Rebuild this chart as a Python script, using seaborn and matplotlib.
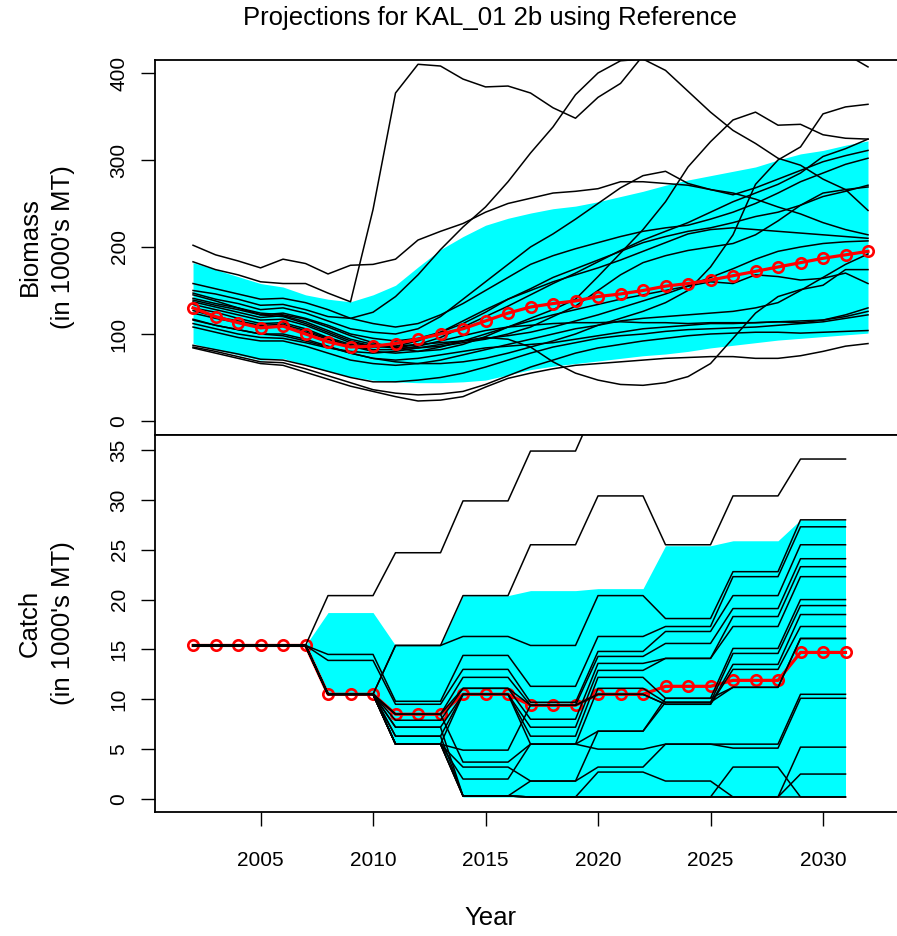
import numpy as np
import pandas as pd
import matplotlib
matplotlib.use("Agg")
import matplotlib.pyplot as plt
import seaborn as sns

plt.rcParams['font.family'] = ['Liberation Sans', 'DejaVu Sans']

years_bio = list(range(2002, 2033))
years_catch = list(range(2002, 2032))

# biomass projections, one list per simulation (1000's MT), 2002-2032
bio_01 = [202, 191, 184, 176, 186, 181, 169, 179, 180, 186, 208, 218, 227, 240, 250, 256,
          262, 264, 267, 275, 275, 273, 271, 266, 260, 268, 278, 288, 298, 305, 311]
bio_02 = [183, 174, 168, 160, 158, 158, 147, 137, 243, 377, 410, 408, 393, 384, 385, 377,
          360, 348, 372, 388, 420, 432, 440, 445, 446, 442, 437, 432, 428, 422, 407]
bio_03 = [150, 146, 140, 133, 134, 128, 120, 118, 125, 143, 168, 197, 223, 246, 275, 308,
          338, 375, 400, 414, 416, 403, 379, 355, 334, 319, 302, 294, 278, 266, 242]
bio_04 = [141, 135, 130, 124, 122, 117, 108, 98, 90, 84, 80, 82, 88, 97, 108, 118,
          128, 140, 166, 193, 220, 252, 292, 321, 346, 355, 340, 341, 329, 325, 324]
bio_05 = [117, 110, 105, 100, 98, 92, 85, 78, 72, 68, 66, 66, 68, 72, 78, 85,
          92, 100, 110, 118, 126, 136, 150, 177, 214, 272, 300, 315, 353, 361, 364]
bio_06 = [147, 140, 135, 128, 130, 124, 115, 106, 102, 100, 106, 120, 140, 160, 180, 200,
          215, 232, 250, 268, 282, 287, 273, 266, 262, 255, 246, 238, 228, 220, 214]
bio_07 = [145, 138, 130, 122, 120, 112, 102, 92, 86, 84, 88, 96, 108, 120, 132, 145,
          158, 170, 183, 196, 208, 218, 228, 240, 252, 262, 272, 285, 304, 313, 324]
bio_08 = [158, 152, 146, 140, 141, 136, 128, 118, 112, 108, 112, 122, 135, 150, 165, 180,
          190, 198, 205, 212, 218, 222, 225, 232, 240, 250, 262, 275, 285, 295, 302]
bio_09 = [139, 133, 128, 122, 124, 118, 110, 100, 95, 92, 95, 102, 112, 125, 140, 152,
          165, 175, 185, 195, 205, 212, 218, 222, 228, 235, 240, 248, 258, 264, 271]
bio_10 = [137, 131, 125, 119, 121, 114, 104, 94, 88, 84, 84, 86, 90, 94, 100, 108,
          120, 132, 150, 168, 182, 190, 196, 200, 204, 214, 230, 248, 262, 266, 269]
bio_11 = [134, 128, 122, 116, 117, 110, 100, 90, 86, 86, 92, 102, 115, 128, 140, 150,
          160, 168, 176, 185, 195, 205, 215, 220, 222, 220, 218, 216, 214, 212, 210]
bio_12 = [130, 125, 118, 112, 113, 106, 96, 88, 85, 86, 88, 90, 92, 95, 98, 102,
          108, 115, 122, 130, 138, 146, 155, 165, 175, 186, 195, 200, 204, 206, 207]
bio_13 = [112, 106, 100, 96, 95, 90, 84, 80, 78, 80, 84, 88, 92, 96, 94, 85,
          68, 55, 47, 42, 41, 44, 51, 66, 95, 124, 143, 151, 156, 174, 174]
bio_14 = [127, 120, 115, 110, 111, 104, 95, 86, 80, 78, 80, 85, 92, 100, 108, 115,
          122, 128, 134, 140, 145, 150, 155, 160, 158, 168, 166, 162, 164, 170, 158]
bio_15 = [124, 118, 113, 108, 109, 102, 94, 86, 82, 82, 86, 92, 98, 104, 108, 110,
          112, 113, 113, 114, 113, 113, 112, 113, 113, 113, 114, 113, 116, 120, 126]
bio_16 = [116, 110, 105, 100, 100, 94, 86, 78, 72, 70, 72, 76, 80, 84, 86, 88,
          90, 94, 98, 102, 106, 108, 110, 112, 112, 113, 114, 115, 116, 122, 130]
bio_17 = [108, 102, 96, 92, 92, 86, 78, 70, 66, 64, 66, 70, 76, 82, 88, 94,
          100, 106, 110, 115, 118, 120, 122, 124, 126, 130, 136, 150, 165, 180, 192]
bio_18 = [84, 78, 72, 66, 64, 56, 48, 40, 34, 28, 23, 24, 28, 39, 49, 55,
          60, 64, 66, 68, 70, 72, 73, 74, 74, 72, 72, 75, 80, 86, 89]
bio_19 = [85, 80, 74, 68, 67, 60, 52, 44, 36, 32, 30, 31, 34, 42, 52, 62,
          70, 78, 84, 88, 92, 95, 98, 100, 101, 102, 102, 101, 102, 103, 104]
bio_20 = [87, 82, 77, 71, 70, 64, 57, 50, 45, 45, 47, 50, 55, 62, 70, 78,
          85, 90, 95, 98, 100, 103, 105, 106, 107, 108, 110, 112, 114, 118, 122]

bio_median = [130, 120, 113, 107, 109, 100, 91, 85, 86, 89, 94, 100, 106, 115, 124, 131,
              135, 138, 143, 146, 150, 155, 158, 162, 167, 172, 177, 182, 187, 191, 195]
bio_upper = [182, 174, 166, 158, 154, 145, 140, 137, 145, 156, 177, 197, 212, 225, 233, 239,
             244, 247, 252, 258, 264, 271, 277, 282, 287, 292, 300, 307, 311, 317, 322]
bio_lower = [89, 82, 76, 70, 72, 64, 57, 51, 47, 45, 44, 44, 45, 47, 53, 59,
             63, 66, 69, 72, 75, 77, 80, 84, 87, 90, 93, 95, 97, 99, 101]

# catch: 15.4 for 2002-2007, then one value per 3-year period
# (2008-10, 11-13, 14-16, 17-19, 20-22, 23-25, 26-28, 29-31)
catch_start = 15.4
catch_01 = [20.4, 24.7, 29.9, 34.9, 40.0, 44.0, 48.0, 52.0]
catch_02 = [10.5, 15.4, 20.4, 25.5, 30.4, 25.5, 30.4, 34.1]
catch_03 = [10.5, 15.4, 16.3, 15.4, 20.4, 18.1, 22.8, 28.0]
catch_04 = [14.5, 9.8, 14.4, 11.3, 16.3, 17.3, 22.3, 27.3]
catch_05 = [13.9, 9.5, 13.0, 9.7, 14.8, 16.8, 20.4, 25.5]
catch_06 = [10.5, 8.5, 12.2, 9.4, 14.3, 15.6, 19.1, 24.1]
catch_07 = [10.5, 7.9, 11.1, 8.0, 13.6, 14.1, 18.3, 23.3]
catch_08 = [10.5, 7.2, 10.5, 7.2, 12.9, 14.1, 17.3, 22.3]
catch_09 = [10.5, 6.3, 10.5, 6.3, 12.2, 10.1, 15.1, 20.0]
catch_10 = [10.5, 5.5, 10.5, 5.5, 11.1, 9.7, 14.6, 19.4]
catch_11 = [10.5, 5.5, 4.9, 9.4, 10.5, 9.5, 13.5, 18.5]
catch_12 = [10.5, 8.5, 11.1, 9.4, 10.5, 9.5, 13.0, 17.3]
catch_13 = [10.5, 8.5, 3.7, 5.5, 6.8, 10.1, 11.2, 16.1]
catch_14 = [10.5, 5.5, 3.2, 1.8, 6.8, 9.7, 11.2, 16.1]
catch_15 = [10.5, 5.5, 2.0, 5.5, 5.0, 5.5, 5.5, 10.5]
catch_16 = [10.5, 5.5, 0.3, 1.8, 3.2, 5.5, 5.1, 10.1]
catch_17 = [10.5, 5.5, 0.3, 0.2, 2.7, 1.8, 0.2, 5.2]
catch_18 = [10.5, 6.3, 0.3, 0.2, 0.2, 0.2, 0.2, 2.5]
catch_19 = [10.5, 7.2, 0.3, 0.2, 0.2, 0.2, 3.2, 0.2]
catch_20 = [10.5, 5.5, 0.3, 0.2, 0.2, 0.2, 0.2, 0.2]

catch_median = [10.5, 8.5, 10.5, 9.4, 10.5, 11.3, 11.9, 14.7]
catch_upper = [18.7, 15.4, 20.4, 20.9, 21.1, 25.4, 25.9, 28.0]
catch_lower = [10.5, 5.5, 0.2, 0.2, 0.2, 0.2, 0.2, 0.2]

bio_runs = [bio_01, bio_02, bio_03, bio_04, bio_05, bio_06, bio_07, bio_08, bio_09, bio_10,
            bio_11, bio_12, bio_13, bio_14, bio_15, bio_16, bio_17, bio_18, bio_19, bio_20]
catch_runs = [catch_01, catch_02, catch_03, catch_04, catch_05, catch_06, catch_07,
              catch_08, catch_09, catch_10, catch_11, catch_12, catch_13, catch_14,
              catch_15, catch_16, catch_17, catch_18, catch_19, catch_20]


def by_year(blocks):
    # catch is fixed for 2002-2007 and then for each 3-year period
    return [catch_start] * 6 + list(np.repeat(blocks, 3))


bio_df = pd.DataFrame(
    [(i, y, v) for i, run in enumerate(bio_runs) for y, v in zip(years_bio, run)],
    columns=['run', 'Year', 'Biomass'])
catch_df = pd.DataFrame(
    [(i, y, v) for i, run in enumerate(catch_runs) for y, v in zip(years_catch, by_year(run))],
    columns=['run', 'Year', 'Catch'])

W, H = 897, 936
fig = plt.figure(figsize=(W / 100, H / 100), dpi=100)
ax1 = fig.add_axes([155 / W, 1 - 435 / H, 758 / W, 375.5 / H])
ax2 = fig.add_axes([155 / W, 1 - 811.7 / H, 758 / W, 376.7 / H])

# biomass panel
ax1.fill_between(years_bio, bio_lower, bio_upper, color='#00FFFF', lw=0, zorder=1)
sns.lineplot(data=bio_df, x='Year', y='Biomass', units='run', estimator=None,
             color='black', lw=1.1, ax=ax1, legend=False, zorder=3)
sns.lineplot(x=years_bio, y=bio_median, color='red', lw=2.3, marker='o', markersize=7.5,
             markerfacecolor='none', mec='red', mew=1.9, ax=ax1, zorder=4)

# catch panel
ax2.fill_between(years_catch, by_year(catch_lower), by_year(catch_upper),
                 color='#00FFFF', lw=0, zorder=1)
sns.lineplot(x=years_catch, y=by_year(catch_median), color='red', lw=2.3, marker='o',
             markersize=7.5, markerfacecolor='none', mec='red', mew=1.9, ax=ax2, zorder=2)
sns.lineplot(data=catch_df, x='Year', y='Catch', units='run', estimator=None,
             color='black', lw=1.1, ax=ax2, legend=False, zorder=3)

for ax in (ax1, ax2):
    ax.set_xlim(2000.31, 2034)
    ax.set_xlabel('')
    ax.set_ylabel('')
    for s in ax.spines.values():
        s.set_linewidth(1.3)
    ax.tick_params(direction='out', length=10, width=1.0, labelsize=15)
    ax.tick_params(axis='y', pad=9)
    ax.tick_params(axis='x', pad=18)

ax1.set_ylim(-16.1, 415.5)
ax1.set_yticks([0, 100, 200, 300, 400])
ax1.set_yticklabels(['0', '100', '200', '300', '400'], rotation=90, va='center')
ax1.tick_params(axis='x', bottom=False, labelbottom=False)

ax2.set_ylim(-1.276, 36.51)
ax2.set_yticks(range(0, 36, 5))
ax2.set_yticklabels([str(v) for v in range(0, 36, 5)], rotation=90, va='center')
ax2.set_xticks(range(2005, 2031, 5))
ax2.set_xticklabels([str(v) for v in range(2005, 2031, 5)])

fig.text(490 / W, 1 - 18 / H, 'Projections for KAL_01 2b using Reference',
         ha='center', va='center', fontsize=18.5)
fig.text(490 / W, 1 - 918 / H, 'Year', ha='center', va='center', fontsize=18.5)
fig.text(30 / W, 1 - 247 / H, 'Biomass', rotation=90, ha='center', va='center', fontsize=18.5)
fig.text(63 / W, 1 - 247 / H, "(in 1000's MT)", rotation=90, ha='center', va='center',
         fontsize=18.5)
fig.text(30 / W, 1 - 623 / H, 'Catch', rotation=90, ha='center', va='center', fontsize=18.5)
fig.text(63 / W, 1 - 623 / H, "(in 1000's MT)", rotation=90, ha='center', va='center',
         fontsize=18.5)

fig.savefig('out.png', dpi=100)
